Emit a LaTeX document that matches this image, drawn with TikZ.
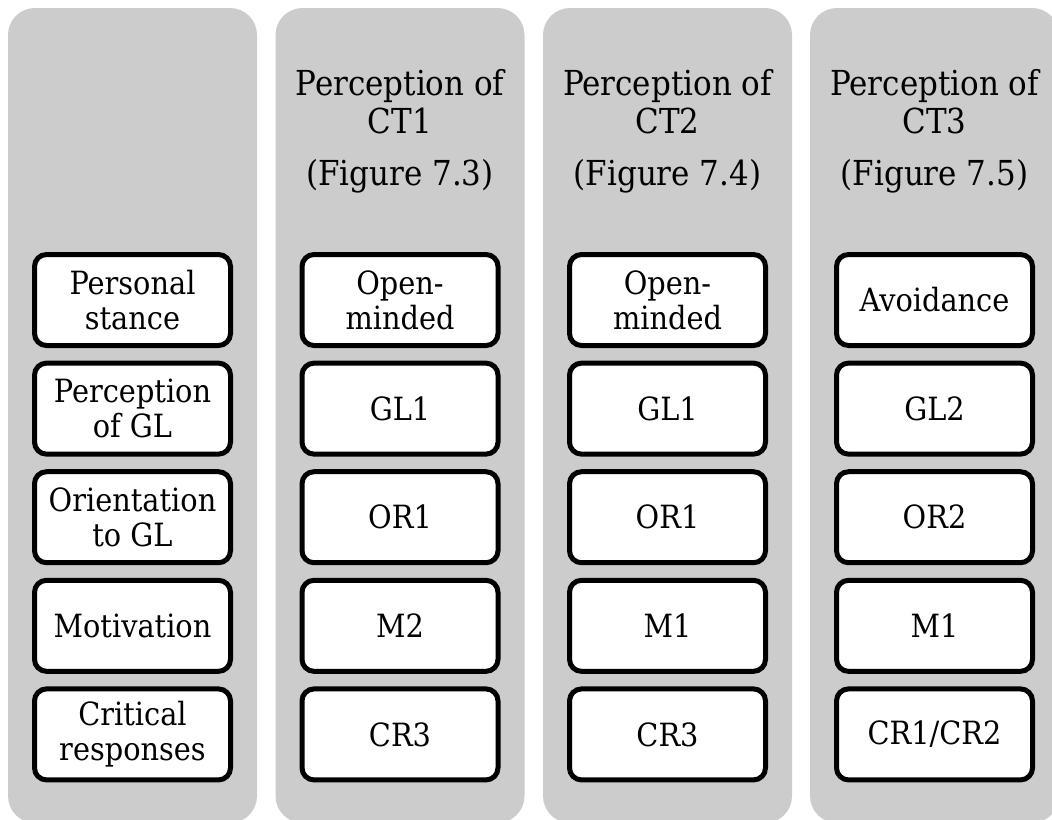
\documentclass[tikz,border=0pt]{standalone}
\usepackage{fontspec}
\setmainfont{DejaVu Serif}[FakeStretch=0.9]
\definecolor{panelgray}{RGB}{204,204,204}
\tikzset{
  panel/.style={fill=panelgray, rounded corners=13.5pt, minimum width=124.5pt,
    minimum height=407.5pt, inner sep=0pt},
  head/.style={anchor=base, inner sep=0pt, font=\fontsize{17.2pt}{19pt}\selectfont},
  cell/.style={draw=black, fill=white, line width=2.5pt, rounded corners=6pt,
    minimum width=98pt, minimum height=45.5pt, inner sep=0pt, align=center,
    font=\fontsize{16pt}{17.5pt}\selectfont},
}
\begin{document}
\begin{tikzpicture}[x=0.5pt, y=-0.5pt]
  \useasboundingbox (0,0) rectangle (1052,819);
  \clip (0,0) rectangle (1052,819);

  % grey column panels
  \node[panel] (col1) at (132.5,415.5) {};
  \node[panel] (col2) at (400,415.5) {};
  \node[panel] (col3) at (667.5,415.5) {};
  \node[panel] (col4) at (934.5,415.5) {};

  % column headings
  \node[head] (h2a) at (400,95) {Perception of};
  \node[head] (h2b) at (400,133) {CT1};
  \node[head] (h2c) at (400,185) {(Figure 7.3)};
  \node[head] (h3a) at (667.5,95) {Perception of};
  \node[head] (h3b) at (667.5,133) {CT2};
  \node[head] (h3c) at (667.5,185) {(Figure 7.4)};
  \node[head] (h4a) at (934.5,95) {Perception of};
  \node[head] (h4b) at (934.5,133) {CT3};
  \node[head] (h4c) at (934.5,185) {(Figure 7.5)};

  % row labels
  \node[cell] (r1c1) at (132.5,300)   {Personal\\stance};
  \node[cell] (r2c1) at (132.5,408.6) {Perception\\of GL};
  \node[cell] (r3c1) at (132.5,517.2) {Orientation\\to GL};
  \node[cell] (r4c1) at (132.5,625.8) {Motivation};
  \node[cell] (r5c1) at (132.5,734.4) {Critical\\responses};

  % CT1
  \node[cell] (r1c2) at (400,300)   {Open-\\minded};
  \node[cell] (r2c2) at (400,408.6) {GL1};
  \node[cell] (r3c2) at (400,517.2) {OR1};
  \node[cell] (r4c2) at (400,625.8) {M2};
  \node[cell] (r5c2) at (400,734.4) {CR3};

  % CT2
  \node[cell] (r1c3) at (667.5,300)   {Open-\\minded};
  \node[cell] (r2c3) at (667.5,408.6) {GL1};
  \node[cell] (r3c3) at (667.5,517.2) {OR1};
  \node[cell] (r4c3) at (667.5,625.8) {M1};
  \node[cell] (r5c3) at (667.5,734.4) {CR3};

  % CT3
  \node[cell] (r1c4) at (934.5,300)   {Avoidance};
  \node[cell] (r2c4) at (934.5,408.6) {GL2};
  \node[cell] (r3c4) at (934.5,517.2) {OR2};
  \node[cell] (r4c4) at (934.5,625.8) {M1};
  \node[cell] (r5c4) at (934.5,734.4) {CR1/CR2};
\end{tikzpicture}
\end{document}
